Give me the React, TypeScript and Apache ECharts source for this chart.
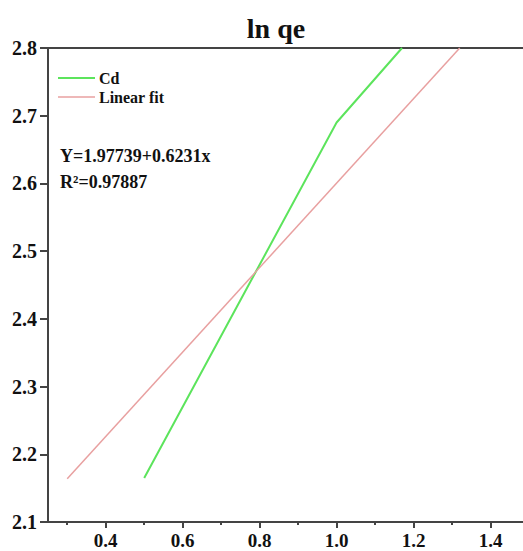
import React, { useEffect, useRef } from "react";
import * as echarts from "echarts";

const cdData: [number, number][] = [
  [0.5, 2.165],
  [1.0, 2.69],
  [1.17, 2.8],
];
const fitData: [number, number][] = [
  [0.3, 2.164],
  [1.32, 2.8],
];
const xMajorTicks = [0.4, 0.6, 0.8, 1.0, 1.2, 1.4];
const xMinorTicks = [0.3, 0.5, 0.7, 0.9, 1.1, 1.3, 1.5];
const titleText = "ln qe";
const equationText = "Y=1.97739+0.6231x";
const r2Text = "R²=0.97887";

const FONT = "Liberation Serif";

export default function App() {
  const ref = useRef<HTMLDivElement>(null);
  useEffect(() => {
    if (!ref.current) return;
    const chart = echarts.init(ref.current, null, { renderer: "svg" });
    chart.setOption({
      animation: false,
      backgroundColor: "#fff",
      textStyle: { fontFamily: FONT },
      grid: {
        left: 48,
        top: 48,
        width: 481,
        height: 474,
        outerBoundsMode: "none",
        containLabel: false,
        show: true,
        borderColor: "#444",
        borderWidth: 2,
        backgroundColor: "transparent",
      },
      title: {
        text: titleText,
        left: 271,
        top: 9,
        textAlign: "center",
        textStyle: { fontFamily: FONT, fontWeight: "bold", fontSize: 28, color: "#111" },
      },
      xAxis: [
        {
          type: "value",
          min: 0.25,
          max: 1.5,
          splitLine: { show: false },
          axisLine: { show: true, onZero: false, lineStyle: { color: "#444", width: 2 } },
          axisTick: { show: true, customValues: xMajorTicks, length: 6, lineStyle: { color: "#444", width: 2 } },
          axisLabel: {
            customValues: xMajorTicks,
            formatter: (v: number) => v.toFixed(1),
            fontFamily: FONT,
            fontWeight: "bold",
            fontSize: 19,
            lineHeight: 19,
            color: "#111",
            margin: 9,
          },
        },
        {
          type: "value",
          min: 0.25,
          max: 1.5,
          position: "bottom",
          splitLine: { show: false },
          axisLine: { show: false, onZero: false },
          axisTick: { show: true, customValues: xMinorTicks, length: 3, lineStyle: { color: "#444", width: 2 } },
          axisLabel: { show: false },
        },
      ],
      yAxis: {
        type: "value",
        min: 2.1,
        max: 2.8,
        interval: 0.1,
        splitLine: { show: false },
        axisLine: { show: true, onZero: false, lineStyle: { color: "#444", width: 2 } },
        axisTick: { show: true, length: 8, lineStyle: { color: "#444", width: 2 } },
        axisLabel: {
          formatter: (v: number) => v.toFixed(1),
          fontFamily: FONT,
          fontWeight: "bold",
          fontSize: 20,
          color: "#111",
          margin: 11,
        },
      },
      series: [
        {
          name: "Cd",
          type: "line",
          data: cdData,
          showSymbol: false,
          clip: true,
          lineStyle: { color: "#5ce45c", width: 2 },
        },
        {
          name: "Linear fit",
          type: "line",
          data: fitData,
          showSymbol: false,
          clip: true,
          lineStyle: { color: "#e8a0a0", width: 1.5 },
        },
      ],
      graphic: [
        { type: "line", shape: { x1: 58, y1: 78, x2: 95, y2: 78 }, style: { stroke: "#5ce45c", lineWidth: 2 } },
        { type: "text", x: 99, y: 78, style: { text: "Cd", font: `bold 16px ${FONT}`, fill: "#111", verticalAlign: "middle" } },
        { type: "line", shape: { x1: 58, y1: 97, x2: 95, y2: 97 }, style: { stroke: "#e8a0a0", lineWidth: 1.5 } },
        { type: "text", x: 99, y: 97, style: { text: "Linear fit", font: `bold 16px ${FONT}`, fill: "#111", verticalAlign: "middle" } },
        { type: "text", x: 60, y: 156, style: { text: equationText, font: `bold 18px ${FONT}`, fill: "#111", verticalAlign: "middle" } },
        { type: "text", x: 60, y: 182, style: { text: r2Text, font: `bold 18px ${FONT}`, fill: "#111", verticalAlign: "middle" } },
      ],
    });
    return () => chart.dispose();
  }, []);
  return <div ref={ref} style={{ width: 523, height: 551, position: "absolute", left: 0, top: 0 }} />;
}
